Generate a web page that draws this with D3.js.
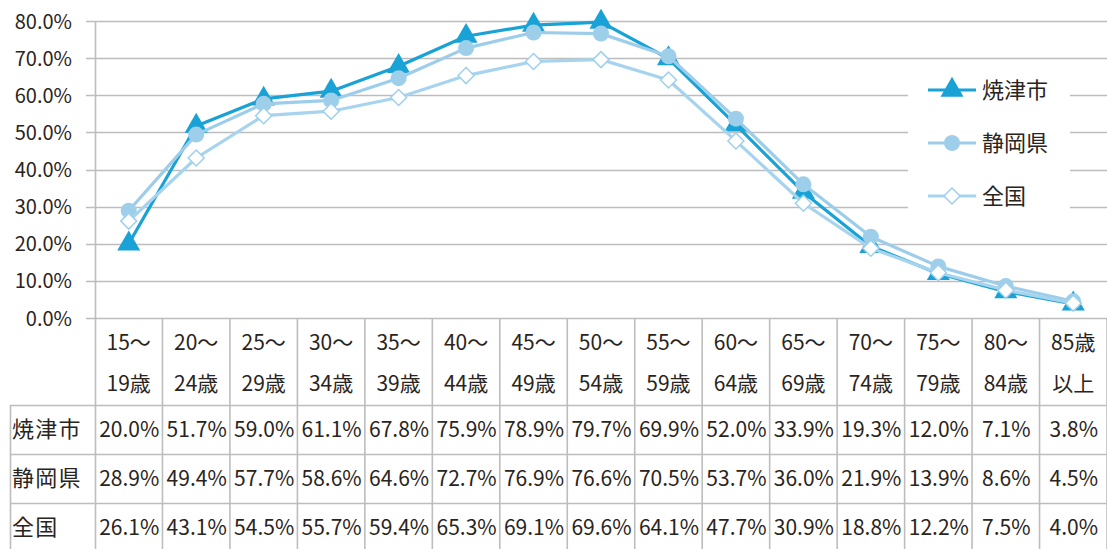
<!DOCTYPE html>
<html lang="ja">
<head>
<meta charset="utf-8">
<script src="https://cdn.jsdelivr.net/npm/d3@7"></script>
<style>
  html, body { margin: 0; padding: 0; background: #fff; }
  svg { display: block; font-family: "Noto Sans CJK JP", "Noto Sans", sans-serif; }
</style>
</head>
<body>
<svg id="chart" width="1107" height="549"></svg>
<script>
// Age groups (two header lines each)
const groupTop = ["15〜", "20〜", "25〜", "30〜", "35〜", "40〜", "45〜", "50〜", "55〜", "60〜", "65〜", "70〜", "75〜", "80〜", "85歳"];
const groupBottom = ["19歳", "24歳", "29歳", "34歳", "39歳", "44歳", "49歳", "54歳", "59歳", "64歳", "69歳", "74歳", "79歳", "84歳", "以上"];
const categories = groupTop.map((t, i) => t + groupBottom[i]);

// Labour force participation rate (%)
const yaizu    = [20.0, 51.7, 59.0, 61.1, 67.8, 75.9, 78.9, 79.7, 69.9, 52.0, 33.9, 19.3, 12.0, 7.1, 3.8];
const shizuoka = [28.9, 49.4, 57.7, 58.6, 64.6, 72.7, 76.9, 76.6, 70.5, 53.7, 36.0, 21.9, 13.9, 8.6, 4.5];
const national = [26.1, 43.1, 54.5, 55.7, 59.4, 65.3, 69.1, 69.6, 64.1, 47.7, 30.9, 18.8, 12.2, 7.5, 4.0];

const seriesNames = ["焼津市", "静岡県", "全国"];
const yTicks = [0, 10, 20, 30, 40, 50, 60, 70, 80];

const series = [
  { name: seriesNames[0], values: yaizu,    line: "#19a2d6", marker: "triangle" },
  { name: seriesNames[1], values: shizuoka, line: "#9ccdea", marker: "circle" },
  { name: seriesNames[2], values: national, line: "#a6d4ef", marker: "diamond" }
];

const svg = d3.select("#chart");
const W = 1107, H = 549;
const textColor = "#2a2420";
const gridColor = "#bdbdbd";

const x = d3.scaleBand().domain(categories).range([95, 1107]).padding(0);
const y = d3.scaleLinear().domain([0, 80]).range([318, 21]);
const cx = c => x(c) + x.bandwidth() / 2;

// Horizontal gridlines with left tick stubs
svg.append("g").selectAll("line").data(yTicks).join("line")
  .attr("x1", 86).attr("x2", W)
  .attr("y1", d => Math.round(y(d)) + 0.5).attr("y2", d => Math.round(y(d)) + 0.5)
  .attr("stroke", gridColor).attr("stroke-width", 1.6);

// Y tick labels
svg.append("g").selectAll("text").data(yTicks).join("text")
  .attr("x", 72).attr("y", d => y(d) + 7.5)
  .attr("text-anchor", "end")
  .attr("font-size", 20).attr("fill", textColor)
  .text(d => d.toFixed(1) + "%");

// Vertical axis line
svg.append("line")
  .attr("x1", 95.5).attr("x2", 95.5).attr("y1", y(80)).attr("y2", H)
  .attr("stroke", gridColor).attr("stroke-width", 1.6);

// Data table grid
const rowTops = [405, 454, 503];
const tableG = svg.append("g");
categories.forEach((c, i) => {
  const xr = x(c) + x.bandwidth();
  tableG.append("line")
    .attr("x1", xr).attr("x2", xr).attr("y1", 318).attr("y2", H)
    .attr("stroke", gridColor).attr("stroke-width", 1.6);
});
tableG.append("line").attr("x1", 10.5).attr("x2", 10.5).attr("y1", rowTops[0]).attr("y2", H)
  .attr("stroke", gridColor).attr("stroke-width", 1.6);
rowTops.forEach(t => {
  tableG.append("line").attr("x1", 10).attr("x2", W).attr("y1", t + 0.5).attr("y2", t + 0.5)
    .attr("stroke", gridColor).attr("stroke-width", 1.6);
});

// Header text
const hdr = svg.append("g").attr("font-size", 21).attr("fill", textColor).attr("text-anchor", "middle");
categories.forEach((c, i) => {
  hdr.append("text").attr("x", cx(c)).attr("y", 350).text(groupTop[i]);
  hdr.append("text").attr("x", cx(c)).attr("y", 391).text(groupBottom[i]);
});

// Table rows: labels and values
const body = svg.append("g").attr("fill", textColor);
series.forEach((s, r) => {
  const base = rowTops[r] + 32;
  body.append("text").attr("x", 12).attr("y", base)
    .attr("font-size", 22).attr("letter-spacing", 1.2).text(s.name);
  s.values.forEach((v, i) => {
    body.append("text").attr("x", cx(categories[i]) + 0.5).attr("y", base)
      .attr("text-anchor", "middle").attr("font-size", 21)
      .text(v.toFixed(1) + "%");
  });
});

// Legend panel
const legend = svg.append("g");
legend.append("rect").attr("x", 908).attr("y", 66).attr("width", 162).attr("height", 154).attr("fill", "#fff");

// Marker drawing
function drawMarker(g, s, px, py) {
  if (s.marker === "triangle") {
    g.append("path")
      .attr("d", d3.symbol().type(d3.symbolTriangle).size(230)())
      .attr("transform", `translate(${px},${py})`)
      .attr("fill", s.line);
  } else if (s.marker === "circle") {
    g.append("circle").attr("cx", px).attr("cy", py).attr("r", 8)
      .attr("fill", "#9ecfea");
  } else {
    g.append("path")
      .attr("d", `M0,-8 L8,0 L0,8 L-8,0 Z`)
      .attr("transform", `translate(${px},${py})`)
      .attr("fill", "#fff").attr("stroke", "#9fcfec").attr("stroke-width", 1.5);
  }
}

// Lines
const lineGen = d3.line().x((d, i) => cx(categories[i])).y(d => y(d));
const plot = svg.append("g");
series.forEach(s => {
  plot.append("path").datum(s.values)
    .attr("d", lineGen).attr("fill", "none")
    .attr("stroke", s.line).attr("stroke-width", 3.2).attr("stroke-linejoin", "round");
  s.values.forEach((v, i) => drawMarker(plot, s, cx(categories[i]), y(v)));
});

// Legend entries
const legendY = [90, 143, 196];
series.forEach((s, k) => {
  const ly = legendY[k];
  legend.append("line").attr("x1", 928).attr("x2", 976).attr("y1", ly).attr("y2", ly)
    .attr("stroke", s.line).attr("stroke-width", 3.2);
  drawMarker(legend, s, 952, ly);
  legend.append("text").attr("x", 982).attr("y", ly + 8)
    .attr("font-size", 22).attr("fill", textColor).text(s.name);
});
</script>
</body>
</html>
